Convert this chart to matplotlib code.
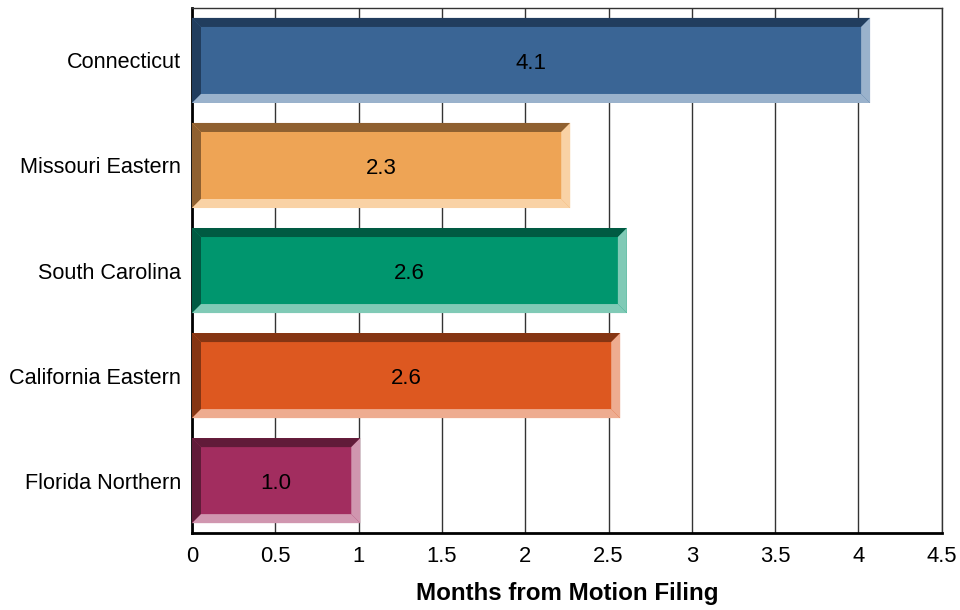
import matplotlib.pyplot as plt
from matplotlib.patches import Polygon

plt.rcParams['font.family'] = ['Liberation Sans', 'DejaVu Sans']

districts = ['Connecticut', 'Missouri Eastern', 'South Carolina',
             'California Eastern', 'Florida Northern']
months = [4.07, 2.27, 2.61, 2.57, 1.01]
face_colors = ['#3a6595', '#eea455', '#00966e', '#dd5820', '#a22d5f']
dark_colors = ['#213d5e', '#8f6030', '#005a42', '#853513', '#611b39']
light_colors = ['#9ab2cc', '#f9d2a5', '#80cab6', '#eeac90', '#d096af']

fig = plt.figure(figsize=(9.6, 6.1), dpi=100)
ax = fig.add_axes([0.2, 0.126, 0.781, 0.861])

height = 0.81
dx, dy = 0.054, 0.086
ypos = list(range(len(districts)))[::-1]

for y, v, fc, dc, lc in zip(ypos, months, face_colors, dark_colors, light_colors):
    x0, x1 = 0, v
    y0, y1 = y - height / 2, y + height / 2
    ax.barh(y, v, height=height, color=fc, zorder=3)
    bevels = [
        ([(x0, y1), (x1, y1), (x1 - dx, y1 - dy), (x0 + dx, y1 - dy)], dc),
        ([(x0, y0), (x0, y1), (x0 + dx, y1 - dy), (x0 + dx, y0 + dy)], dc),
        ([(x0, y0), (x1, y0), (x1 - dx, y0 + dy), (x0 + dx, y0 + dy)], lc),
        ([(x1, y0), (x1, y1), (x1 - dx, y1 - dy), (x1 - dx, y0 + dy)], lc),
    ]
    for pts, c in bevels:
        ax.add_patch(Polygon(pts, closed=True, facecolor=c, edgecolor='none', zorder=4))
    ax.text(v / 2, y - 0.025, '{:.1f}'.format(v), ha='center', va='center',
            fontsize=16, color='black', zorder=5)

ax.set_xlim(0, 4.5)
ax.set_ylim(-0.5, len(districts) - 0.5)
ax.set_xticks([0, 0.5, 1, 1.5, 2, 2.5, 3, 3.5, 4, 4.5])
ax.set_xticklabels(['0', '0.5', '1', '1.5', '2', '2.5', '3', '3.5', '4', '4.5'])
ax.set_yticks(ypos)
ax.set_yticklabels(districts)
ax.tick_params(axis='y', length=0, labelsize=15.6, pad=8)
ax.tick_params(axis='x', length=0, labelsize=15.8, pad=9)
ax.xaxis.grid(True, color='#333333', linewidth=1, zorder=0)
ax.set_axisbelow(True)

for side in ['left', 'bottom']:
    ax.spines[side].set_linewidth(2)
    ax.spines[side].set_color('black')
for side in ['top', 'right']:
    ax.spines[side].set_linewidth(1)
    ax.spines[side].set_color('#333333')

ax.set_xlabel('Months from Motion Filing', fontsize=17.4, fontweight='bold', labelpad=11)

fig.savefig('out.png', dpi=100)
